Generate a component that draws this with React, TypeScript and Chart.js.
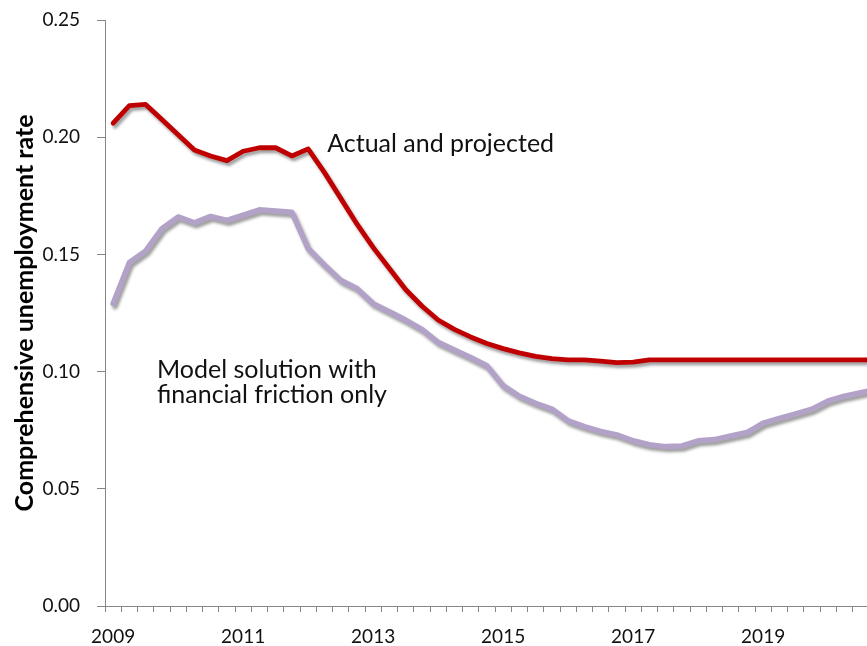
import React, { useEffect, useRef } from "react";
import { Chart, registerables } from "chart.js";

Chart.register(...registerables);

const quarters = [
  "2009Q1", "2009Q2", "2009Q3", "2009Q4",
  "2010Q1", "2010Q2", "2010Q3", "2010Q4",
  "2011Q1", "2011Q2", "2011Q3", "2011Q4",
  "2012Q1", "2012Q2", "2012Q3", "2012Q4",
  "2013Q1", "2013Q2", "2013Q3", "2013Q4",
  "2014Q1", "2014Q2", "2014Q3", "2014Q4",
  "2015Q1", "2015Q2", "2015Q3", "2015Q4",
  "2016Q1", "2016Q2", "2016Q3", "2016Q4",
  "2017Q1", "2017Q2", "2017Q3", "2017Q4",
  "2018Q1", "2018Q2", "2018Q3", "2018Q4",
  "2019Q1", "2019Q2", "2019Q3", "2019Q4",
  "2020Q1", "2020Q2", "2020Q3", "2020Q4",
];

const actualProjected = [
  0.206, 0.2135, 0.214, 0.2075, 0.201, 0.1945, 0.192, 0.19,
  0.194, 0.1955, 0.1955, 0.192, 0.195, 0.185, 0.174, 0.163,
  0.153, 0.144, 0.135, 0.128, 0.122, 0.118, 0.1148, 0.112,
  0.1098, 0.108, 0.1065, 0.1055, 0.105, 0.105, 0.1045, 0.1038,
  0.104, 0.105, 0.105, 0.105, 0.105, 0.105, 0.105, 0.105,
  0.105, 0.105, 0.105, 0.105, 0.105, 0.105, 0.105, 0.105,
];

const financialFrictionOnly = [
  0.129, 0.1465, 0.1515, 0.161, 0.166, 0.1635, 0.1662, 0.1645,
  0.1668, 0.169, 0.1685, 0.168, 0.1525, 0.1455, 0.139, 0.1355,
  0.129, 0.1255, 0.122, 0.118, 0.1125, 0.1092, 0.106, 0.1025,
  0.094, 0.0895, 0.0865, 0.084, 0.079, 0.0765, 0.0745, 0.073,
  0.0705, 0.0688, 0.068, 0.0683, 0.0705, 0.071, 0.0725, 0.074,
  0.078, 0.08, 0.082, 0.084, 0.0875, 0.0895, 0.091, 0.0925,
];

const yTicks = [0, 0.05, 0.1, 0.15, 0.2, 0.25];

// annotation texts anchored in data space: [category index, value]
const annotationTexts = ["Actual and projected", "Model solution with", "financial friction only"];
const annotationX = [13.17, 2.7, 2.7];
const annotationY = [0.1937, 0.0973, 0.0866];

const FONT = "Lato, 'Open Sans', sans-serif";

export default function App() {
  const ref = useRef<HTMLCanvasElement | null>(null);

  useEffect(() => {
    const canvas = ref.current;
    if (!canvas) return;

    const shadowPlugin = {
      id: "lineShadow",
      beforeDatasetDraw(chart: any) {
        const ctx = chart.ctx;
        ctx.save();
        ctx.shadowColor = "rgba(0,0,0,0.38)";
        ctx.shadowBlur = 3;
        ctx.shadowOffsetX = 2;
        ctx.shadowOffsetY = 3;
      },
      afterDatasetDraw(chart: any) {
        chart.ctx.restore();
      },
    };

    const textPlugin = {
      id: "annotTexts",
      afterDatasetsDraw(chart: any) {
        const ctx = chart.ctx;
        const xs = chart.scales.x;
        const ys = chart.scales.y;
        const x0 = xs.getPixelForValue(0);
        const step = xs.getPixelForValue(1) - x0;
        ctx.save();
        ctx.font = `25px ${FONT}`;
        ctx.fillStyle = "#111111";
        ctx.textAlign = "left";
        ctx.textBaseline = "alphabetic";
        annotationTexts.forEach((t, i) => {
          ctx.fillText(t, x0 + annotationX[i] * step, ys.getPixelForValue(annotationY[i]));
        });
        ctx.restore();
      },
    };

    const chart = new Chart(canvas, {
      type: "line",
      data: {
        labels: quarters,
        datasets: [
          {
            label: "Actual and projected",
            data: actualProjected,
            borderColor: "#C00000",
            borderWidth: 4.8,
            pointRadius: 0,
            tension: 0,
            fill: false,
            borderJoinStyle: "round",
            borderCapStyle: "round",
          },
          {
            label: "Model solution with financial friction only",
            data: financialFrictionOnly,
            borderColor: "#B3A2C7",
            borderWidth: 5.5,
            pointRadius: 0,
            tension: 0,
            fill: false,
            borderJoinStyle: "round",
            borderCapStyle: "round",
          },
        ],
      },
      options: {
        animation: false,
        responsive: false,
        layout: { padding: { top: 20, right: 0, left: 0, bottom: 0 } },
        plugins: {
          legend: { display: false },
          tooltip: { enabled: false },
        },
        scales: {
          x: {
            type: "category",
            offset: true,
            grid: {
              display: true,
              offset: true,
              drawOnChartArea: false,
              drawTicks: true,
              tickLength: 6,
              color: "#868686",
            },
            border: { display: true, color: "#868686", width: 1 },
            ticks: {
              autoSkip: false,
              maxRotation: 0,
              minRotation: 0,
              padding: 13,
              color: "#111111",
              font: { family: FONT, size: 19 },
              callback: (_v: any, idx: number) => (idx % 8 === 0 ? quarters[idx].slice(0, 4) : ""),
            },
            afterFit: (s: any) => {
              s.height = 40;
              s.paddingLeft = 0;
              s.paddingRight = 0;
            },
          },
          y: {
            min: 0,
            max: 0.25,
            afterBuildTicks: (s: any) => {
              s.ticks = yTicks.map((v) => ({ value: v }));
            },
            grid: {
              display: true,
              drawOnChartArea: false,
              drawTicks: true,
              tickLength: 8,
              color: "#868686",
            },
            border: { display: true, color: "#868686", width: 1 },
            ticks: {
              padding: 17,
              color: "#111111",
              font: { family: FONT, size: 19 },
              callback: (v: any) => Number(v).toFixed(2),
            },
            title: {
              display: true,
              text: "Comprehensive unemployment rate",
              color: "#000000",
              font: { family: FONT, size: 25, weight: "bold" },
              padding: { top: 10, bottom: 0 },
            },
            afterFit: (s: any) => {
              s.width = 105;
              s.paddingTop = 0;
              s.paddingBottom = 0;
            },
          },
        },
      },
      plugins: [shadowPlugin, textPlugin],
    });

    return () => chart.destroy();
  }, []);

  return (
    <div
      style={{
        position: "absolute",
        left: 0,
        top: 0,
        width: 867,
        height: 646,
        overflow: "hidden",
        background: "#ffffff",
      }}
    >
      <canvas ref={ref} width={885} height={646} style={{ display: "block" }} />
    </div>
  );
}
